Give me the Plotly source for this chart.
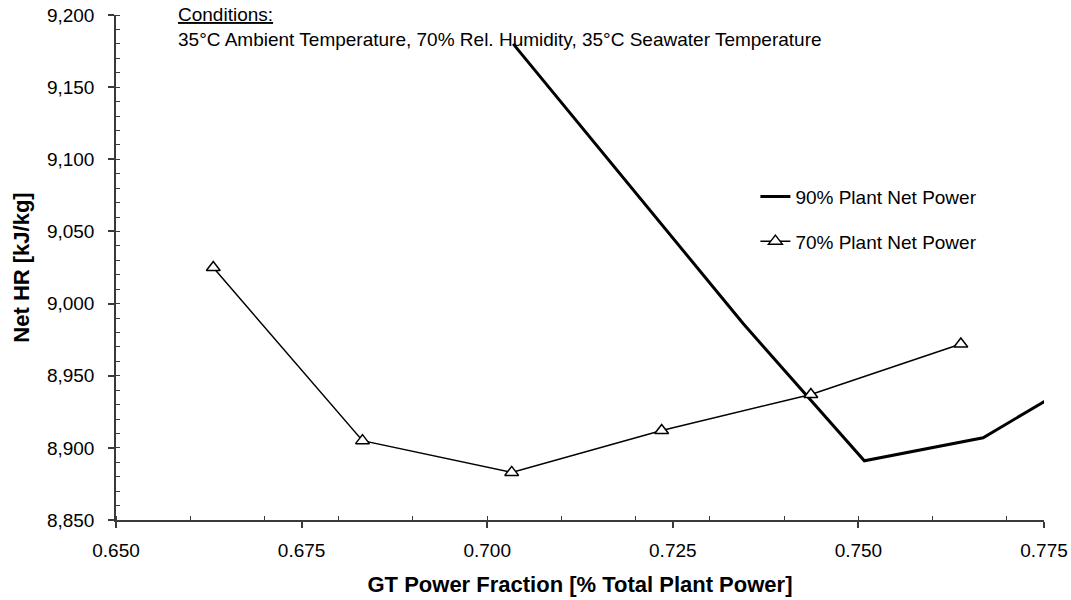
import plotly.graph_objects as go

# Data
gt_frac_90 = [0.7035, 0.7345, 0.7508, 0.7668, 0.7760]
net_hr_90 = [9180, 8986, 8891, 8907, 8935]

gt_frac_70 = [0.6631, 0.6832, 0.7033, 0.7235, 0.7436, 0.7638]
net_hr_70 = [9025, 8905, 8883, 8912, 8937, 8972]

series_names = ["90% Plant Net Power", "70% Plant Net Power"]
x_title = "GT Power Fraction [% Total Plant Power]"
y_title = "Net HR [kJ/kg]"
conditions_title = "Conditions:"
conditions_text = "35°C Ambient Temperature, 70% Rel. Humidity, 35°C Seawater Temperature"

FONT = "Liberation Sans, Arial, sans-serif"
AX = "#3a3a3a"
FS = 19

fig = go.Figure()
fig.add_trace(go.Scatter(
    x=gt_frac_90, y=net_hr_90, mode="lines", name=series_names[0],
    legendgroup="a", line=dict(color="black", width=3),
))
fig.add_trace(go.Scatter(
    x=gt_frac_70, y=net_hr_70, mode="lines+markers", name=series_names[1],
    legendgroup="b", line=dict(color="black", width=1.5),
    marker=dict(symbol="triangle-up", size=12, color="white",
                line=dict(color="black", width=1.5)),
))

fig.update_layout(
    width=1071, height=600,
    paper_bgcolor="white", plot_bgcolor="white",
    margin=dict(l=116, r=27, t=15, b=80, autoexpand=False),
    font=dict(family=FONT, size=FS, color="black"),
    showlegend=True,
    legend=dict(x=0.689, y=0.678, xanchor="left", yanchor="top",
                bgcolor="rgba(0,0,0,0)", font=dict(size=FS),
                tracegroupgap=17, traceorder="grouped"),
    xaxis=dict(
        range=[0.65, 0.775], tick0=0.65, dtick=0.025, tickformat=".3f",
        automargin=False,
        showgrid=False, zeroline=False, showline=True, linecolor=AX, linewidth=1.5,
        ticks="outside", ticklen=6, tickwidth=1.5, tickcolor=AX,
        minor=dict(ticks="inside", ticklen=4, tick0=0.65, dtick=0.01,
                   tickcolor=AX, tickwidth=1, showgrid=False),
        title=dict(text="<b>" + x_title + "</b>", font=dict(size=22), standoff=17),
        ticklabelstandoff=6,
    ),
    yaxis=dict(
        range=[8850, 9200], tick0=8850, dtick=50, tickformat=",d",
        automargin=False,
        showgrid=False, zeroline=False, showline=True, linecolor=AX, linewidth=1.5,
        ticks="outside", ticklen=6, tickwidth=1.5, tickcolor=AX,
        minor=dict(ticks="inside", ticklen=4, tick0=8850, dtick=10,
                   tickcolor=AX, tickwidth=1, showgrid=False),
        title=dict(text="<b>" + y_title + "</b>", font=dict(size=22), standoff=11),
        ticklabelstandoff=10,
    ),
    xaxis2=dict(
        overlaying="x", anchor="y", side="bottom", range=[0.65, 0.775],
        tick0=0.65, dtick=0.025, ticks="inside", ticklen=5, tickwidth=1.5,
        tickcolor=AX, showticklabels=False, showline=False, showgrid=False,
        zeroline=False, automargin=False,
    ),
    yaxis2=dict(
        overlaying="y", anchor="x", side="left", range=[8850, 9200],
        tick0=8850, dtick=50, ticks="inside", ticklen=5, tickwidth=1.5,
        tickcolor=AX, showticklabels=False, showline=False, showgrid=False,
        zeroline=False, automargin=False,
    ),
)

fig.add_annotation(
    xref="paper", yref="paper", x=(177 - 116) / 928, y=1 + (15 - 3) / 505,
    xanchor="left", yanchor="top", align="left", showarrow=False,
    text="<u>" + conditions_title + "</u><br>" + conditions_text,
    bgcolor="rgba(0,0,0,0)", borderpad=0, font=dict(size=FS, color="black"),
)

fig.write_html(
    "out.html",
    config={"displayModeBar": False},
    post_script="document.body.style.margin='0';document.body.style.overflow='hidden';",
)
